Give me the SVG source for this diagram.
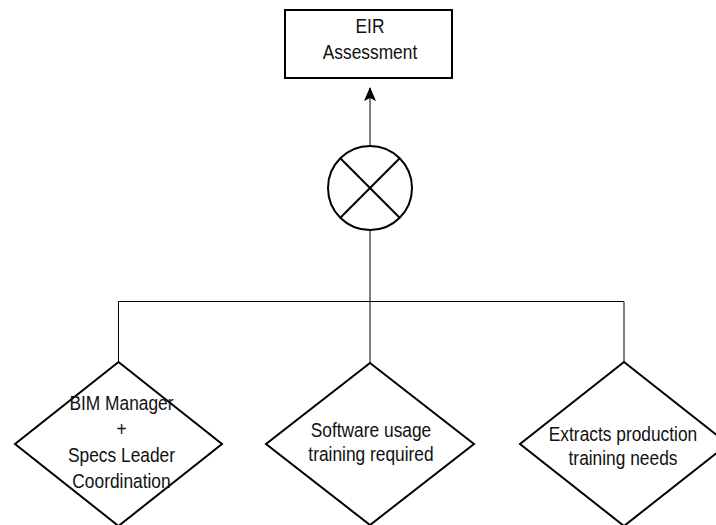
<svg xmlns="http://www.w3.org/2000/svg" width="716" height="525" viewBox="0 0 716 525">
  <defs>
    <style>
      .shape { fill: #ffffff; stroke: #000000; stroke-width: 2; }
      .wire { fill: none; stroke: #000000; stroke-width: 1; }
      .cross { stroke: #000000; stroke-width: 2; }
      .label { font-family: "Liberation Sans", Arial, sans-serif; font-size: 19.5px; fill: #111111; text-anchor: middle; }
    </style>
    <marker id="arrow" viewBox="0 0 14 12" refX="13" refY="6" markerWidth="14" markerHeight="12" markerUnits="userSpaceOnUse" orient="auto">
      <path d="M0,0 L14,6 L0,12 L3,6 Z" fill="#000000"/>
    </marker>
  </defs>
  <rect width="716" height="525" fill="#ffffff"/>

  <!-- connectors -->
  <g id="connectors">
    <line class="wire" x1="370" y1="146" x2="370" y2="88" marker-end="url(#arrow)"/>
    <line class="wire" x1="370" y1="230" x2="370" y2="301.5"/>
    <polyline class="wire" points="118.5,362 118.5,301.5 624,301.5 624,362"/>
    <line class="wire" x1="370" y1="301.5" x2="370" y2="363"/>
  </g>

  <!-- top box -->
  <g id="eir-assessment">
    <rect class="shape" x="285" y="10" width="167" height="68"/>
    <g transform="translate(370,0) scale(0.89,1)">
      <text class="label" x="0" y="33">EIR</text>
      <text class="label" x="0" y="59">Assessment</text>
    </g>
  </g>

  <!-- junction (X in circle) -->
  <g id="junction">
    <circle class="shape" cx="370" cy="188" r="42"/>
    <line class="cross" x1="340.3" y1="158.3" x2="399.7" y2="217.7"/>
    <line class="cross" x1="399.7" y1="158.3" x2="340.3" y2="217.7"/>
  </g>

  <!-- decisions -->
  <g id="bim-manager">
    <polygon class="shape" points="118.5,362 222,444 118.5,526 15,444"/>
    <g transform="translate(121.5,0) scale(0.89,1)">
      <text class="label" x="0" y="410">BIM Manager</text>
      <text class="label" x="0" y="436">+</text>
      <text class="label" x="0" y="462">Specs Leader</text>
      <text class="label" x="0" y="488">Coordination</text>
    </g>
  </g>

  <g id="software-usage">
    <polygon class="shape" points="370,363 474,444 370,525 266,444"/>
    <g transform="translate(371,0) scale(0.89,1)">
      <text class="label" x="0" y="437">Software usage</text>
      <text class="label" x="0" y="461">training required</text>
    </g>
  </g>

  <g id="production-needs">
    <polygon class="shape" points="624,362 728,444 624,526 520,444"/>
    <g transform="translate(623,0) scale(0.89,1)">
      <text class="label" x="0" y="441">Extracts production</text>
      <text class="label" x="0" y="465">training needs</text>
    </g>
  </g>
</svg>
